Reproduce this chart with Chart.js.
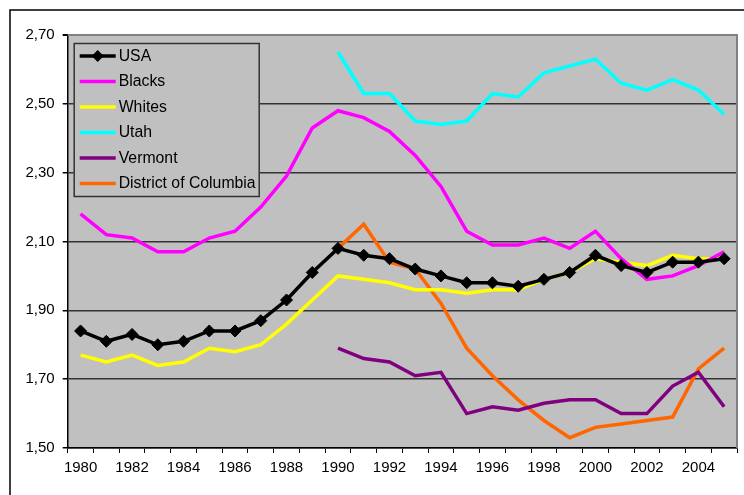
<!DOCTYPE html>
<html>
<head>
<meta charset="utf-8">
<script src="https://cdn.jsdelivr.net/npm/chart.js@4/dist/chart.umd.min.js"></script>
<style>
  html, body { margin: 0; padding: 0; background: #fff; }
  #wrap { width: 744px; height: 495px; }
</style>
</head>
<body>
<div id="wrap"><canvas id="chart" width="744" height="495"></canvas></div>
<script>
// anni sull'asse x
const years = [];
for (let y = 1980; y <= 2005; y++) years.push(String(y));

// valori (null = nessun dato)
const usa = [1.84, 1.81, 1.83, 1.80, 1.81, 1.84, 1.84, 1.87, 1.93, 2.01,
             2.08, 2.06, 2.05, 2.02, 2.00, 1.98, 1.98, 1.97, 1.99, 2.01,
             2.06, 2.03, 2.01, 2.04, 2.04, 2.05];
const blacks = [2.18, 2.12, 2.11, 2.07, 2.07, 2.11, 2.13, 2.20, 2.29, 2.43,
                2.48, 2.46, 2.42, 2.35, 2.26, 2.13, 2.09, 2.09, 2.11, 2.08,
                2.13, 2.05, 1.99, 2.00, 2.03, 2.07];
const whites = [1.77, 1.75, 1.77, 1.74, 1.75, 1.79, 1.78, 1.80, 1.86, 1.93,
                2.00, 1.99, 1.98, 1.96, 1.96, 1.95, 1.96, 1.96, 1.99, 2.01,
                2.05, 2.04, 2.03, 2.06, 2.05, 2.05];
const utah = [null, null, null, null, null, null, null, null, null, null,
              2.65, 2.53, 2.53, 2.45, 2.44, 2.45, 2.53, 2.52, 2.59, 2.61,
              2.63, 2.56, 2.54, 2.57, 2.54, 2.47];
const vermont = [null, null, null, null, null, null, null, null, null, null,
                 1.79, 1.76, 1.75, 1.71, 1.72, 1.60, 1.62, 1.61, 1.63, 1.64,
                 1.64, 1.60, 1.60, 1.68, 1.72, 1.62];
const dc = [null, null, null, null, null, null, null, null, null, null,
            2.08, 2.15, 2.04, 2.02, 1.92, 1.79, 1.71, 1.64, 1.58, 1.53,
            1.56, 1.57, 1.58, 1.59, 1.73, 1.79];

const yMin = 1.5, yMax = 2.7, yStep = 0.2;

const FONT = "'Liberation Sans', Arial, sans-serif";
const SILVER = '#C0C0C0';

function line(label, data, color) {
  return {
    label: label, data: data,
    borderColor: color, backgroundColor: color,
    borderWidth: 3.5, pointRadius: 0, pointHoverRadius: 0,
    tension: 0, spanGaps: false
  };
}

const usaSet = line('USA', usa, '#000000');
usaSet.pointStyle = 'rectRot';
usaSet.pointRadius = 6;
usaSet.pointBackgroundColor = '#000000';
usaSet.pointBorderColor = '#000000';
usaSet.pointBorderWidth = 1;

// sfondo grigio, bordi e cornice esterna
const frame = {
  id: 'frame',
  beforeDraw(chart) {
    const c = chart.ctx, a = chart.chartArea;
    c.save();
    c.fillStyle = SILVER;
    c.fillRect(a.left, a.top, a.right - a.left, a.bottom - a.top);
    c.strokeStyle = '#000';
    c.lineWidth = 1.5;
    c.strokeRect(10, 10, 900, 700);
    c.restore();
  },
  beforeDatasetsDraw(chart) {
    const c = chart.ctx, a = chart.chartArea;
    c.save();
    c.strokeStyle = '#808080';
    c.lineWidth = 2;
    c.beginPath();
    c.moveTo(a.left, a.top);
    c.lineTo(a.right, a.top);
    c.lineTo(a.right, a.bottom);
    c.stroke();
    c.restore();
  }
};

// legenda dentro l'area del grafico, col riquadro
const boxLegend = {
  id: 'boxLegend',
  afterDatasetsDraw(chart) {
    const c = chart.ctx, a = chart.chartArea;
    const x0 = a.left + 6, y0 = a.top + 8, w = 186, h = 154;
    c.save();
    c.fillStyle = SILVER;
    c.fillRect(x0, y0, w, h);
    c.strokeStyle = '#333';
    c.lineWidth = 1.5;
    c.strokeRect(x0 + 0.5, y0 + 0.5, w - 1, h - 1);
    c.font = '15.8px ' + FONT;
    c.textBaseline = 'middle';
    chart.data.datasets.forEach((ds, i) => {
      const cy = y0 + 13 + i * 25.5;
      c.strokeStyle = ds.borderColor;
      c.lineWidth = 3.5;
      c.beginPath();
      c.moveTo(x0 + 6, cy);
      c.lineTo(x0 + 42, cy);
      c.stroke();
      if (ds.pointStyle === 'rectRot') {
        c.fillStyle = ds.pointBackgroundColor;
        c.beginPath();
        c.moveTo(x0 + 24 - 6, cy);
        c.lineTo(x0 + 24, cy - 6);
        c.lineTo(x0 + 24 + 6, cy);
        c.lineTo(x0 + 24, cy + 6);
        c.closePath();
        c.fill();
      }
      c.fillStyle = '#000';
      c.fillText(ds.label, x0 + 45, cy + 0.5);
    });
    c.restore();
  }
};

const ctx = document.getElementById('chart');
const myChart = new Chart(ctx, {
  type: 'line',
  data: {
    labels: years,
    datasets: [
      usaSet,
      line('Blacks', blacks, '#FF00FF'),
      line('Whites', whites, '#FFFF00'),
      line('Utah', utah, '#00FFFF'),
      line('Vermont', vermont, '#800080'),
      line('District of Columbia', dc, '#FF6600')
    ]
  },
  options: {
    responsive: false,
    devicePixelRatio: 1,
    animation: false,
    layout: { padding: { left: 10, top: 35, right: 7, bottom: 0 } },
    plugins: {
      legend: { display: false },
      tooltip: { enabled: false }
    },
    scales: {
      x: {
        offset: true,
        grid: {
          offset: true, drawOnChartArea: false, drawTicks: true,
          tickLength: 5, tickColor: '#000', lineWidth: 1
        },
        border: { color: '#000', width: 1.5 },
        ticks: {
          autoSkip: false, maxRotation: 0, minRotation: 0, padding: 6,
          color: '#000', font: { family: FONT, size: 15 },
          callback: (v, i) => (i % 2 === 0 ? years[i] : '')
        },
        afterFit: s => { s.height = 47; }
      },
      y: {
        min: yMin, max: yMax,
        grid: {
          color: c => (c.tick && Math.abs(c.tick.value - yMax) < 1e-6 ? '#808080' : '#333'),
          lineWidth: c => (c.tick && Math.abs(c.tick.value - yMax) < 1e-6 ? 2 : 1.5),
          tickLength: 5, tickColor: '#000'
        },
        border: { color: '#000', width: 1.5 },
        ticks: {
          stepSize: yStep, padding: 8, color: '#000',
          font: { family: FONT, size: 15 },
          callback: v => v.toFixed(2).replace('.', ',')
        },
        afterFit: s => { s.width = 57.7; }
      }
    }
  },
  plugins: [frame, boxLegend]
});
</script>
</body>
</html>
